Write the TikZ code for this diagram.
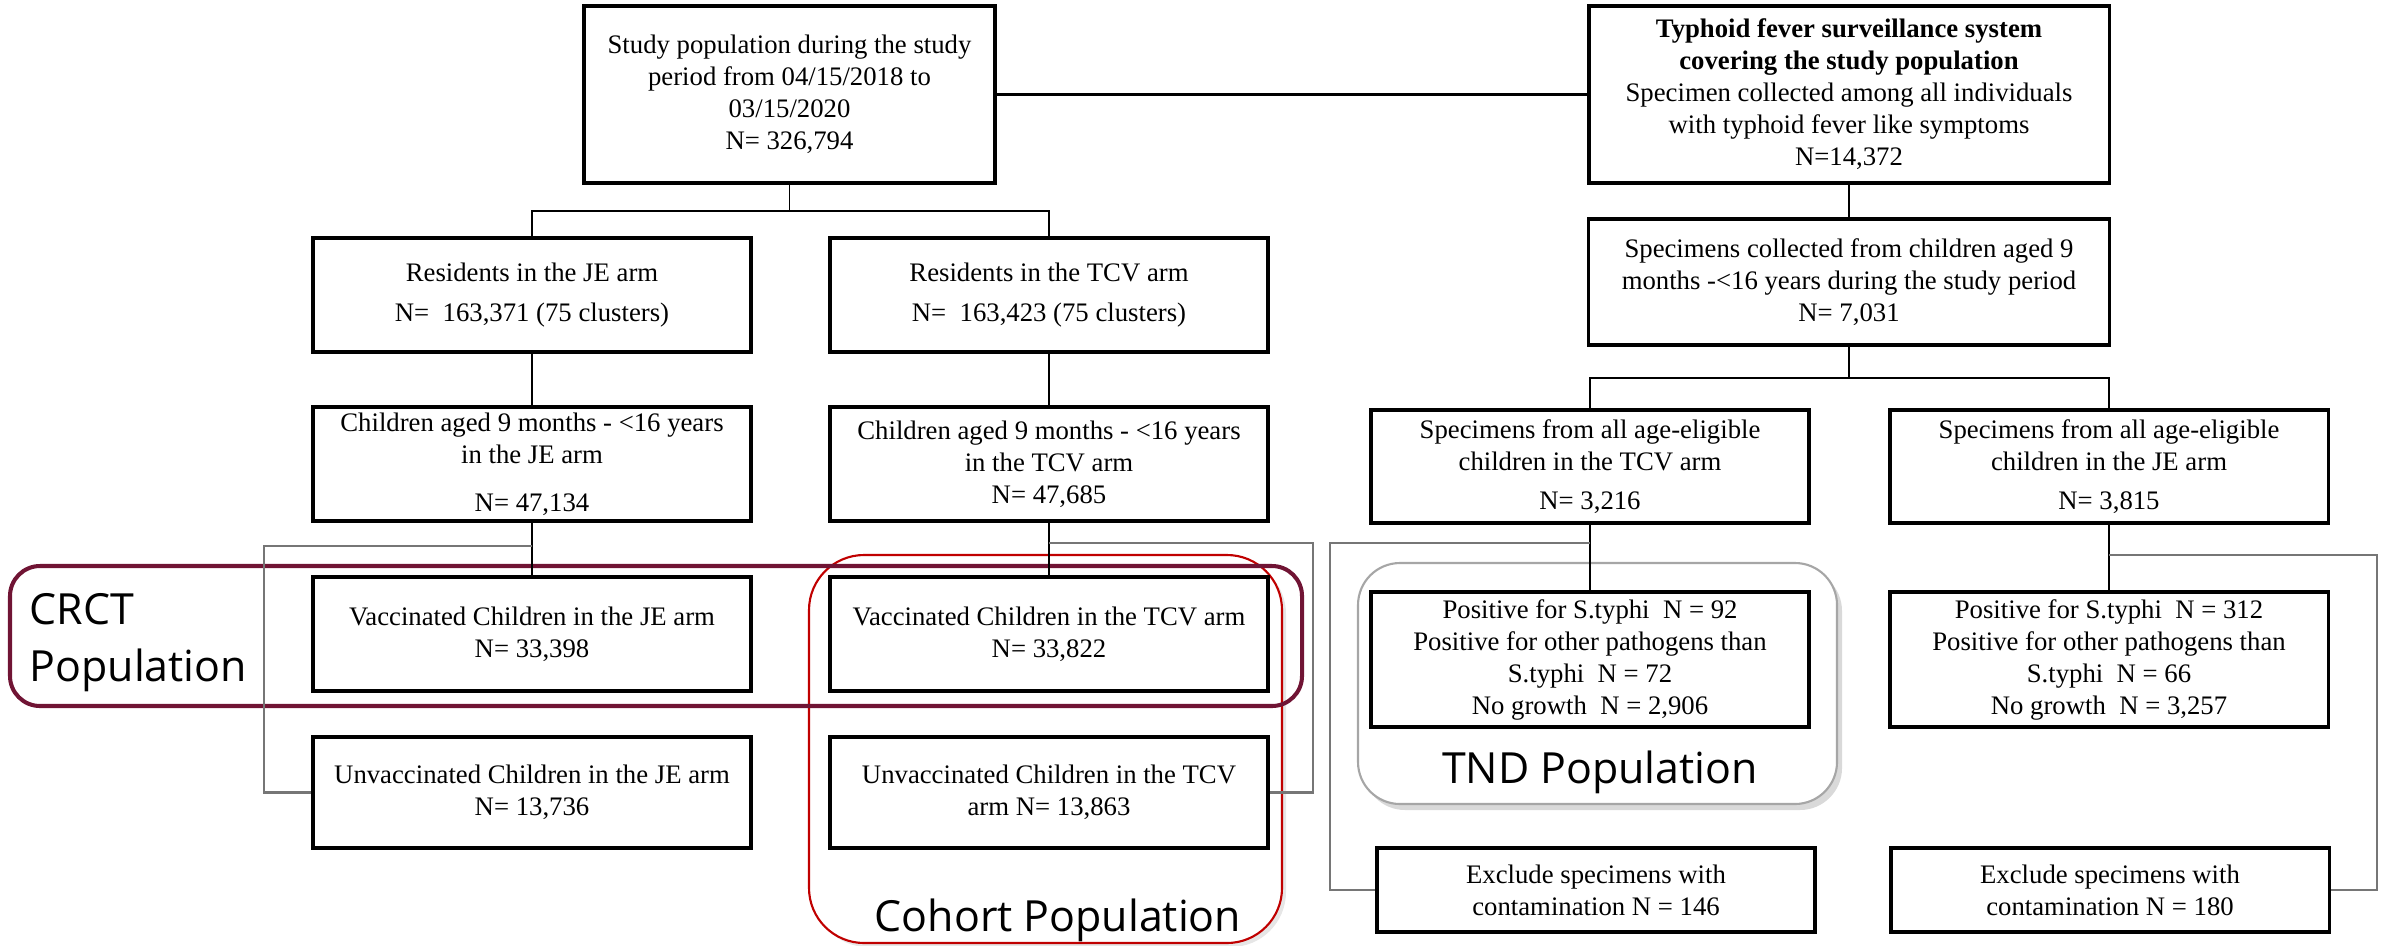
\documentclass[tikz,border=0pt]{standalone}
\usepackage{fontspec}
\setmainfont{Liberation Serif}
\newfontfamily\grouplabelfont{Open Sans}
\usetikzlibrary{shadows}
\definecolor{crctcol}{RGB}{112,20,52}
\definecolor{cohortcol}{RGB}{192,0,0}
\definecolor{tndcol}{RGB}{166,166,166}
\definecolor{linkcol}{RGB}{118,118,118}
\begin{document}
\begin{tikzpicture}[x=0.01cm,y=-0.01cm]
\tikzstyle{every node}+=[inner sep=0pt]
\tikzstyle{box}=[draw=black,line width=0.95pt,fill=white,align=center,font=\fontsize{7.6}{9.1}\selectfont,minimum width=4.38cm,minimum height=1.14cm]
\tikzstyle{trunk}=[black,line width=0.45pt]
\tikzstyle{branch}=[linkcol,line width=0.6pt]
\tikzstyle{grouplabel}=[font=\grouplabelfont\fontsize{12.2}{16.2}\selectfont,align=left]
\useasboundingbox (0,0) rectangle (2392,945);
\draw [cohortcol,line width=0.6pt,rounded corners=0.55cm,fill=white,drop shadow={opacity=0.2,shadow xshift=0.04cm,shadow yshift=-0.04cm}] (809,555) rectangle (1282,943);
\draw [crctcol,line width=1.15pt,rounded corners=0.3cm] (10,566) rectangle (1302,706);
\draw [tndcol,line width=0.6pt,rounded corners=0.42cm,fill=white,drop shadow={opacity=0.3,shadow xshift=0.05cm,shadow yshift=-0.06cm}] (1358,563) rectangle (1837,804);
\node [grouplabel,anchor=west] (crctlab) at (29,643) {CRCT\\Population};
\node [grouplabel,anchor=base] (cohortlab) at (1058,931) {Cohort Population};
\node [grouplabel,anchor=base] (tndlab) at (1600,783) {TND Population};
\node [box,minimum width=4.11cm,minimum height=1.77cm] (study) at (789.5,94.5) {Study population during the study\\period from 04/15/2018 to\\03/15/2020\\N= 326,794};
\node [box,minimum width=5.2cm,minimum height=1.77cm] (surv) at (1849,94.5) {\textbf{Typhoid fever surveillance system}\\\textbf{covering the study population}\\Specimen collected among all individuals\\with typhoid fever like symptoms\\N=14,372};
\node [box,minimum width=5.21cm,minimum height=1.26cm] (spec) at (1849,282) {Specimens collected from children aged 9\\months -<16 years during the study period\\N= 7,031};
\node [box] (JEres) at (532,295) {Residents in the JE arm\\[2.3pt]N=\ \ 163,371 (75 clusters)};
\node [box] (TCVres) at (1049,295) {Residents in the TCV arm\\[2.3pt]N=\ \ 163,423 (75 clusters)};
\node [box] (JEchild) at (532,464) {Children aged 9 months - <16 years\\in the JE arm\\[4.5pt]N= 47,134};
\node [box] (TCVchild) at (1049,464) {Children aged 9 months - <16 years\\in the TCV arm\\N= 47,685};
\node [box] (JEvac) at (532,634) {Vaccinated Children in the JE arm\\N= 33,398};
\node [box] (TCVvac) at (1049,634) {Vaccinated Children in the TCV arm\\N= 33,822};
\node [box,minimum height=1.11cm] (JEunv) at (532,792.5) {Unvaccinated Children in the JE arm\\N= 13,736};
\node [box,minimum height=1.11cm] (TCVunv) at (1049,792.5) {Unvaccinated Children in the TCV\\arm N= 13,863};
\node [box,minimum height=1.13cm] (specTCV) at (1590,466.5) {Specimens from all age-eligible\\children in the TCV arm\\[2pt]N= 3,216};
\node [box,minimum height=1.13cm] (specJE) at (2109,466.5) {Specimens from all age-eligible\\children in the JE arm\\[2pt]N= 3,815};
\node [box,minimum height=1.35cm] (posTCV) at (1590,659.5) {Positive for S.typhi\ \ N = 92\\Positive for other pathogens than\\S.typhi\ \ N = 72\\No growth\ \ N = 2,906};
\node [box,minimum height=1.35cm] (posJE) at (2109,659.5) {Positive for S.typhi\ \ N = 312\\Positive for other pathogens than\\S.typhi\ \ N = 66\\No growth\ \ N = 3,257};
\node [box,minimum height=0.84cm] (exTCV) at (1596,890) {Exclude specimens with\\contamination N = 146};
\node [box,minimum height=0.84cm] (exJE) at (2110,890) {Exclude specimens with\\contamination N = 180};
\coordinate (armsplit) at (789.5,211);
\coordinate (JEfork) at (532,546);
\coordinate (JEbend) at (264,546);
\coordinate (TCVfork) at (1049,543);
\coordinate (TCVbend) at (1313,543);
\coordinate (specsplit) at (1849,378);
\coordinate (TNDfork) at (1590,543);
\coordinate (TNDbend) at (1330,543);
\coordinate (JEspecfork) at (2109,555);
\coordinate (JEspecbend) at (2377,555);
\draw [trunk,line width=0.7pt] (study.east) -- (surv.west);
\draw [trunk] (study.south) -- (armsplit);
\draw [trunk] (JEres.north) |- (armsplit) -| (TCVres.north);
\draw [trunk] (JEres.south) -- (JEchild.north);
\draw [trunk] (TCVres.south) -- (TCVchild.north);
\draw [trunk] (JEchild.south) -- (JEvac.north);
\draw [trunk] (TCVchild.south) -- (TCVvac.north);
\draw [branch] (JEfork) -- (JEbend) |- (JEunv.west);
\draw [branch] (TCVfork) -- (TCVbend) |- (TCVunv.east);
\draw [trunk] (surv.south) -- (spec.north);
\draw [trunk] (spec.south) -- (specsplit);
\draw [trunk] (specTCV.north) |- (specsplit) -| (specJE.north);
\draw [trunk] (specTCV.south) -- (posTCV.north);
\draw [trunk] (specJE.south) -- (posJE.north);
\draw [branch] (TNDfork) -- (TNDbend) |- (exTCV.west);
\draw [branch] (JEspecfork) -- (JEspecbend) |- (exJE.east);
\end{tikzpicture}
\end{document}
